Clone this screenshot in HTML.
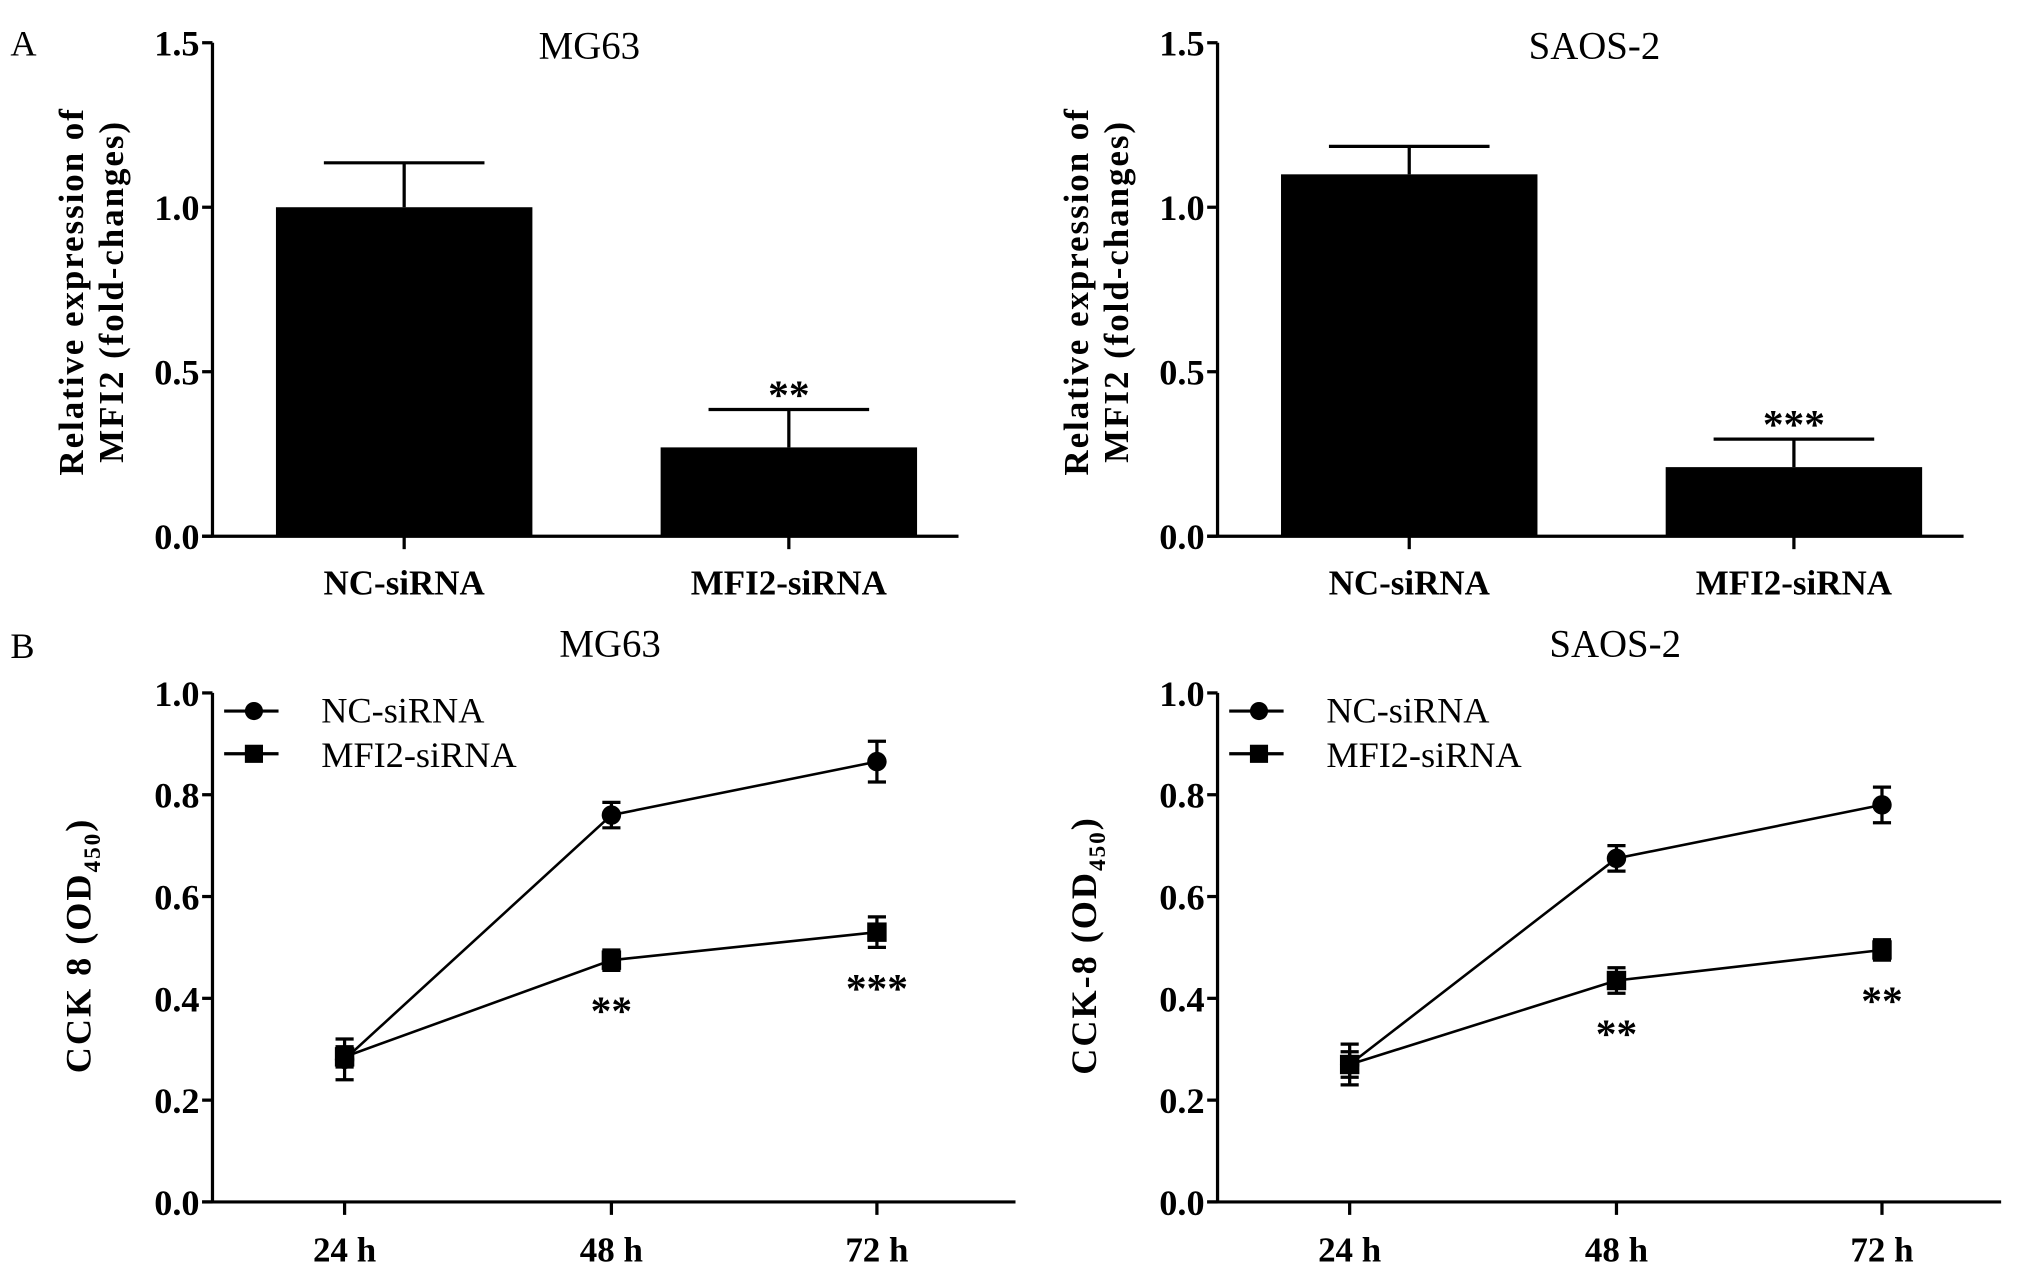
<!DOCTYPE html>
<html><head><meta charset="utf-8"><style>
html,body{margin:0;padding:0;background:#fff;}
svg{display:block;}
text{font-family:"Liberation Serif",serif;fill:#000;}
</style></head><body>
<svg id="fig" width="2031" height="1279" viewBox="0 0 1568 987.5" xmlns="http://www.w3.org/2000/svg">
<text x="8" y="43" font-size="28">A</text>
<text x="8" y="508" font-size="28">B</text>
</svg>
<script>
const barCats = ["NC-siRNA", "MFI2-siRNA"];
const barMG63 = [1.0, 0.27];
const barMG63Err = [0.135, 0.115];
const barSAOS = [1.10, 0.21];
const barSAOSErr = [0.085, 0.085];
const barStarsMG63 = ["", "**"];
const barStarsSAOS = ["", "***"];
const barTicks = [0.0, 0.5, 1.0, 1.5];
const timeCats = ["24 h", "48 h", "72 h"];
const lineTicks = [0.0, 0.2, 0.4, 0.6, 0.8, 1.0];
const mgNC = [0.28, 0.76, 0.865];
const mgNCErr = [0.04, 0.025, 0.04];
const mgMF = [0.285, 0.475, 0.53];
const mgMFErr = [0.02, 0.02, 0.03];
const mgStars = ["", "**", "***"];
const saNC = [0.27, 0.675, 0.78];
const saNCErr = [0.04, 0.025, 0.035];
const saMF = [0.27, 0.435, 0.495];
const saMFErr = [0.025, 0.025, 0.02];
const saStars = ["", "**", "**"];

const NS = "http://www.w3.org/2000/svg";
const svg = document.getElementById('fig');
function mk(tag, attrs, parent, txt) {
  const e = document.createElementNS(NS, tag);
  for (const k in attrs) e.setAttribute(k, attrs[k]);
  if (txt !== undefined) e.textContent = txt;
  (parent || svg).appendChild(e);
  return e;
}
function line(x1, y1, x2, y2, w, p) { return mk('line', {x1, y1, x2, y2, stroke: '#000', 'stroke-width': w || 2}, p); }

function barChart(ax, title, vals, errs, stars, ylab1, ylab2) {
  const g = mk('g', {});
  
  
  const y = v => 414 - (v / 1.5) * 381;
  const cx = [ax + 148, ax + 445];
  const t = mk('text', {x: ax + 291, y: 45, 'font-size': 30, 'text-anchor': 'middle'}, g, title);
  
  
  line(ax, 33, ax, 415, 2.5, g);
  line(ax - 8, 414, ax + 576, 414, 2.5, g);
  barTicks.forEach(v => {
    line(ax - 8, y(v), ax, y(v), 2.5, g);
    const tl = mk('text', {x: ax - 10, y: y(v) + 10, 'font-size': 28, 'font-weight': 'bold', 'text-anchor': 'end'}, g, v.toFixed(1));
    
    
  });
  const yl = mk('text', {transform: `translate(${ax - 100},225) rotate(-90)`, 'font-size': 27, 'font-weight': 'bold', 'text-anchor': 'middle', 'letter-spacing': '1.5'}, g);
  
  
  mk('tspan', {x: 0, dy: 0}, yl, ylab1);
  mk('tspan', {x: 0, dy: 31}, yl, ylab2);
  barCats.forEach((c, i) => {
    const r = mk('rect', {x: cx[i] - 99, y: y(vals[i]), width: 198, height: 414 - y(vals[i]), fill: '#000'}, g);
    
    
    const top = y(vals[i] + errs[i]);
    line(cx[i], y(vals[i]), cx[i], top, 2.5, g);
    line(cx[i] - 62, top, cx[i] + 62, top, 2.5, g);
    line(cx[i], 414, cx[i], 424, 2.5, g);
    const cl = mk('text', {x: cx[i], y: 459, 'font-size': 27, 'font-weight': 'bold', 'text-anchor': 'middle'}, g, c);
    
    
    if (stars[i]) {
      const s = mk('text', {x: cx[i], y: top - 1, 'font-size': 32, 'font-weight': 'bold', 'text-anchor': 'middle'}, g, stars[i]);
      
      
    }
  });
}

function lineChart(ax, axEnd, title, nc, ncE, mf, mfE, stars, ylabChar) {
  const g = mk('g', {});
  
  
  const y = v => 928 - v * 393;
  const xs = [ax + 102, ax + 308, ax + 513];
  const t = mk('text', {x: ax + 307, y: 507, 'font-size': 30, 'text-anchor': 'middle'}, g, title);
  
  
  line(ax, 535, ax, 929, 2.5, g);
  line(ax - 8, 928, axEnd, 928, 2.5, g);
  lineTicks.forEach(v => {
    line(ax - 8, y(v), ax, y(v), 2.5, g);
    const tl = mk('text', {x: ax - 10, y: y(v) + 10, 'font-size': 28, 'font-weight': 'bold', 'text-anchor': 'end'}, g, v.toFixed(1));
    
    
  });
  const yl = mk('text', {transform: `translate(${ax - 94},730) rotate(-90)`, 'font-size': 28, 'font-weight': 'bold', 'text-anchor': 'middle', 'letter-spacing': '1.5'}, g);
  
  
  mk('tspan', {}, yl, 'CCK' + ylabChar + '8 (OD');
  mk('tspan', {'font-size': 18, dy: 7}, yl, '450');
  mk('tspan', {dy: -7}, yl, ')');
  timeCats.forEach((c, i) => {
    line(xs[i], 928, xs[i], 938, 2.5, g);
    const cl = mk('text', {x: xs[i], y: 974, 'font-size': 27, 'font-weight': 'bold', 'text-anchor': 'middle'}, g, c);
    
    
  });
  [[nc, ncE, 'circle', 'nc-sirna'], [mf, mfE, 'square', 'mfi2-sirna']].forEach(([vals, errs, shape, nm]) => {
    const pl = mk('polyline', {points: vals.map((v, i) => xs[i] + ',' + y(v)).join(' '), fill: 'none', stroke: '#000', 'stroke-width': 2}, g);
    
    
    vals.forEach((v, i) => {
      const t1 = y(v + errs[i]), b1 = y(v - errs[i]);
      line(xs[i], t1, xs[i], b1, 2.5, g);
      line(xs[i] - 7, t1, xs[i] + 7, t1, 2.5, g);
      line(xs[i] - 7, b1, xs[i] + 7, b1, 2.5, g);
      let m;
      if (shape === 'circle') m = mk('circle', {cx: xs[i], cy: y(v), r: 7.5, fill: '#000'}, g);
      else m = mk('rect', {x: xs[i] - 7.5, y: y(v) - 7.5, width: 15, height: 15, fill: '#000'}, g);
      
      
    });
  });
  stars.forEach((s, i) => {
    if (!s) return;
    const st = mk('text', {x: xs[i], y: y(mf[i] - mfE[i]) + 42, 'font-size': 32, 'font-weight': 'bold', 'text-anchor': 'middle'}, g, s);
    
    
  });
  const lg = mk('g', {}, g);
  
  
  line(ax + 9, 549, ax + 51, 549, 2.5, lg);
  mk('circle', {cx: ax + 32, cy: 549, r: 7, fill: '#000'}, lg);
  mk('text', {x: ax + 84, y: 558, 'font-size': 28}, lg, 'NC-siRNA');
  line(ax + 9, 582, ax + 51, 582, 2.5, lg);
  mk('rect', {x: ax + 25, y: 575, width: 14, height: 14, fill: '#000'}, lg);
  mk('text', {x: ax + 84, y: 592, 'font-size': 28}, lg, 'MFI2-siRNA');
}

barChart(164, 'MG63', barMG63, barMG63Err, barStarsMG63, 'Relative expression of', 'MFI2 (fold-changes)');
barChart(940, 'SAOS-2', barSAOS, barSAOSErr, barStarsSAOS, 'Relative expression of', 'MFI2 (fold-changes)');
lineChart(164, 784, 'MG63', mgNC, mgNCErr, mgMF, mgMFErr, mgStars, ' ');
lineChart(940, 1545, 'SAOS-2', saNC, saNCErr, saMF, saMFErr, saStars, '-');
</script>
</body></html>
